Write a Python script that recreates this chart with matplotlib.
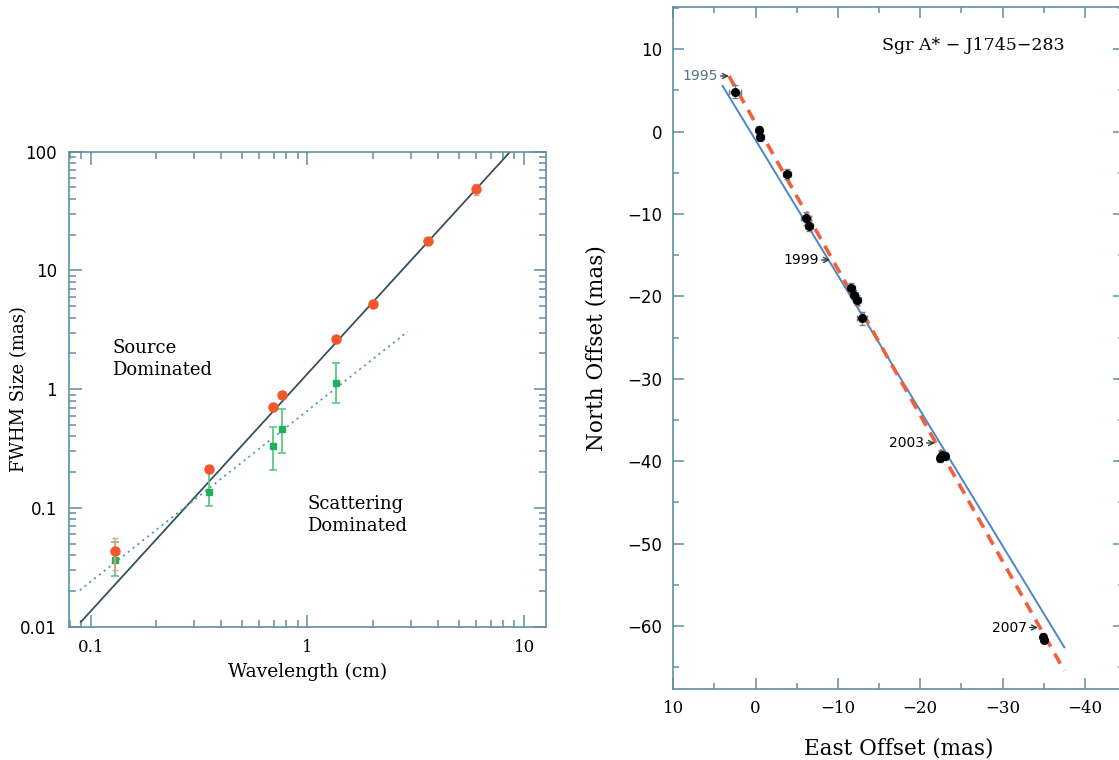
import matplotlib
matplotlib.use("Agg")
import matplotlib.pyplot as plt
import numpy as np
from matplotlib.ticker import LogLocator, NullFormatter, FuncFormatter, MultipleLocator

# ---- Left panel: size versus wavelength ----
obs_wavelength_cm = [0.13, 0.35, 0.69, 0.76, 1.35, 2.0, 3.6, 6.0]
obs_size_mas = [0.043, 0.212, 0.71, 0.89, 2.65, 5.22, 17.8, 48.4]
obs_size_err = [0.013, 0.015, 0.03, 0.03, 0.08, 0.15, 0.5, 5.0]

int_wavelength_cm = [0.13, 0.35, 0.69, 0.76, 1.35]
int_size_mas = [0.0367, 0.135, 0.331, 0.461, 1.117]
int_size_low = [0.0267, 0.103, 0.21, 0.288, 0.764]
int_size_high = [0.052, 0.201, 0.48, 0.684, 1.66]

scatter_coeff = 1.35          # size = coeff * lambda^2
scatter_range_cm = [0.09, 10.0]
intrinsic_amp = 0.66          # size = amp * lambda^index
intrinsic_index = 1.44
intrinsic_range_cm = [0.089, 2.9]

x_ticks_left = [0.1, 1, 10]
y_ticks_left = [0.01, 0.1, 1, 10, 100]

# ---- Right panel: apparent motion ----
east_mas = [2.52, -0.40, -0.56, -3.77, -6.11, -6.5, -11.54, -11.98, -12.27, -12.88,
            -22.4, -22.7, -23.0, -34.95, -35.07]
north_mas = [4.85, 0.2, -0.6, -5.1, -10.5, -11.4, -19.0, -19.8, -20.4, -22.65,
             -39.6, -39.2, -39.4, -61.3, -61.7]
east_err = [0.7, 0.4, 0.4, 0.5, 0.6, 0.5, 0.5, 0.5, 0.5, 0.6, 0.4, 0.4, 0.4, 0.3, 0.3]
north_err = [0.8, 0.5, 0.5, 0.6, 0.8, 0.6, 0.6, 0.6, 0.6, 0.8, 0.5, 0.5, 0.5, 0.4, 0.4]

galactic_east = [4.01, -37.5]
galactic_north = [5.55, -62.6]
fit_east = [3.24, -37.5]
fit_north = [6.76, -65.45]

epoch_labels = ["1995", "1999", "2003", "2007"]
epoch_east = [3.24, -9.03, -21.8, -34.3]
epoch_north = [6.76, -15.57, -37.8, -60.2]
epoch_colors = ["#52707e", "black", "black", "black"]

frame_col = "#5f8fa0"
red = "#f2582c"
green = "#22b05a"

fig = plt.figure(figsize=(11.19, 7.6), dpi=100)
fig.patch.set_facecolor("white")

# ================= left panel =================
axL = fig.add_axes([69.3 / 1119, 1 - 626.7 / 760, 476.4 / 1119, 475 / 760])
axL.set_xscale("log")
axL.set_yscale("log")
axL.set_xlim(0.0797, 12.55)
axL.set_ylim(0.01, 100)

lam = np.array(scatter_range_cm)
axL.plot(lam, scatter_coeff * lam ** 2, color="#34525e", lw=1.3, zorder=2)
lam2 = np.array(intrinsic_range_cm)
axL.plot(lam2, intrinsic_amp * lam2 ** intrinsic_index, color="#5a9ab5", lw=1.3,
         ls=(0, (1.2, 2.2)), zorder=2)

gs = np.array(int_size_mas)
axL.errorbar(int_wavelength_cm, gs,
             yerr=[gs - np.array(int_size_low), np.array(int_size_high) - gs],
             fmt="s", color=green, ms=5, ecolor="#5cc985", elinewidth=1.3,
             capsize=3, capthick=1.2, zorder=3)
axL.errorbar(obs_wavelength_cm, obs_size_mas, yerr=obs_size_err, fmt="o",
             color=red, ms=6.5, ecolor="#f59a85", elinewidth=1.2, capsize=2.5,
             zorder=4)

axL.text(0.126, 1.8, "Source\nDominated", family="DejaVu Serif", fontsize=13,
         ha="left", va="center", linespacing=1.28)
axL.text(1.0, 0.088, "Scattering\nDominated", family="DejaVu Serif", fontsize=13,
         ha="left", va="center", linespacing=1.28)

axL.xaxis.set_major_locator(LogLocator(base=10, subs=(1.0,)))
axL.xaxis.set_minor_locator(LogLocator(base=10, subs=np.arange(2, 10) * 1.0))
axL.yaxis.set_major_locator(LogLocator(base=10, subs=(1.0,)))
axL.yaxis.set_minor_locator(LogLocator(base=10, subs=np.arange(2, 10) * 1.0))
fmt = FuncFormatter(lambda v, p: f"{v:g}")
axL.set_xticks(x_ticks_left)
axL.set_yticks(y_ticks_left)
axL.xaxis.set_major_formatter(fmt)
axL.yaxis.set_major_formatter(fmt)
axL.xaxis.set_minor_formatter(NullFormatter())
axL.yaxis.set_minor_formatter(NullFormatter())
axL.tick_params(which="both", direction="in", top=True, right=True,
                color=frame_col, width=1.1)
axL.tick_params(which="major", length=9, pad=9)
axL.tick_params(which="minor", length=5)
axL.tick_params(axis="y", labelsize=12)
axL.tick_params(axis="x", labelsize=12)
for lab in axL.get_xticklabels():
    lab.set_family("DejaVu Serif")
for s in axL.spines.values():
    s.set_color(frame_col)
    s.set_linewidth(1.2)
axL.set_xlabel("Wavelength (cm)", family="DejaVu Serif", fontsize=13.5)
axL.set_ylabel("FWHM Size (mas)", family="DejaVu Serif", fontsize=13)
axL.xaxis.set_label_coords(0.5, -0.076)
axL.yaxis.set_label_coords(-0.087, 0.5)

# ================= right panel =================
axR = fig.add_axes([673.3 / 1119, 1 - 689.3 / 760, 450.7 / 1119, 682 / 760])
axR.set_xlim(10, -44.75)
axR.set_ylim(-67.7, 15.1)

axR.plot(galactic_east, galactic_north, color="#4a86c8", lw=1.4, zorder=2)
axR.plot(fit_east, fit_north, color="#f0603c", lw=2.6, ls=(0, (3.2, 2.2)), zorder=3)
axR.errorbar(east_mas, north_mas, xerr=east_err, yerr=north_err, fmt="o",
             color="black", ms=5.5, ecolor="#6f7f86", elinewidth=1.0,
             capsize=2, zorder=4)

for lab, ex, ny, col in zip(epoch_labels, epoch_east, epoch_north, epoch_colors):
    axR.annotate(lab, xy=(ex, ny), xytext=(-8, 0), textcoords="offset points",
                 ha="right", va="center", fontsize=10, color=col,
                 arrowprops=dict(arrowstyle="->", color="#2c3e46", lw=1.0,
                                 shrinkA=0, shrinkB=0, mutation_scale=9))

axR.text(-15.3, 10.5, "Sgr A* \u2212 J1745\u2212283", family="DejaVu Serif",
         fontsize=12.5, ha="left", va="center")

axR.xaxis.set_major_locator(MultipleLocator(10))
axR.xaxis.set_minor_locator(MultipleLocator(5))
axR.yaxis.set_major_locator(MultipleLocator(10))
axR.yaxis.set_minor_locator(MultipleLocator(5))
axR.tick_params(which="both", direction="in", top=True, right=True,
                color=frame_col, width=1.1)
axR.tick_params(which="major", length=8, pad=8, labelsize=12)
axR.tick_params(which="minor", length=4)
for lab in axR.get_xticklabels():
    lab.set_family("DejaVu Serif")
for s in axR.spines.values():
    s.set_color(frame_col)
    s.set_linewidth(1.2)
axR.set_xlabel("East Offset (mas)", family="DejaVu Serif", fontsize=15.5)
axR.set_ylabel("North Offset (mas)", family="DejaVu Serif", fontsize=15.5)
axR.xaxis.set_label_coords(0.5, -0.07)
axR.yaxis.set_label_coords(-0.147, 0.5)

fig.savefig("out.png", dpi=100)
